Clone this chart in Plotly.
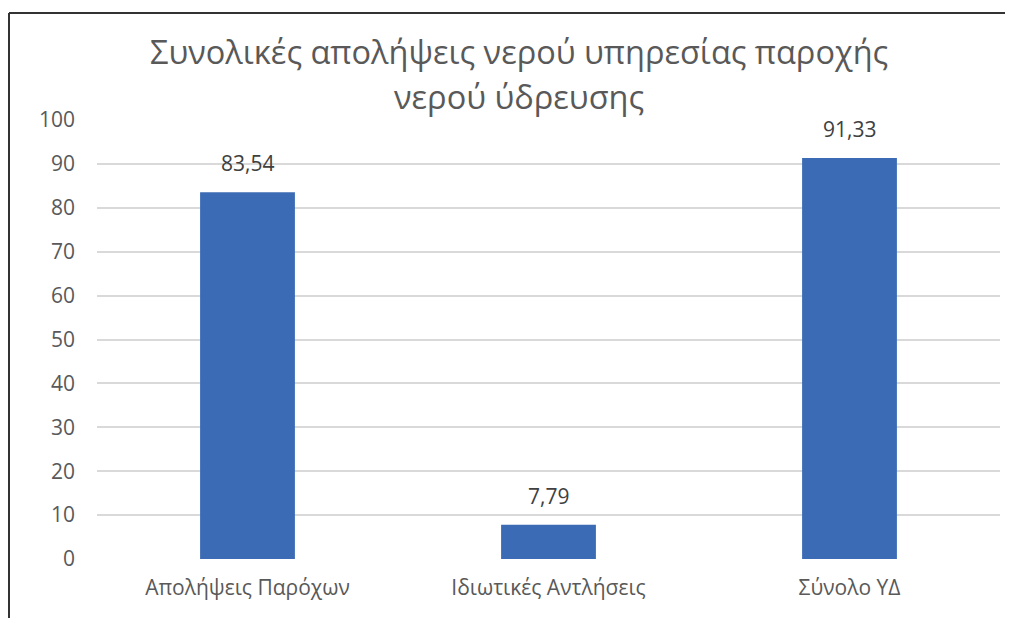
import plotly.graph_objects as go

categories = ["Απολήψεις Παρόχων", "Ιδιωτικές Αντλήσεις", "Σύνολο ΥΔ"]
values = [83.54, 7.79, 91.33]
value_labels = ["83,54", "7,79", "91,33"]
y_ticks = [0, 10, 20, 30, 40, 50, 60, 70, 80, 90, 100]

title_lines = ["Συνολικές απολήψεις νερού υπηρεσίας παροχής", "νερού ύδρευσης"]

FONT = "Open Sans, Noto Sans, DejaVu Sans, sans-serif"

# page body has an 8px default margin; compensate
OFF = 8

fig = go.Figure(go.Bar(
    x=categories, y=values,
    marker=dict(color="#3C6BB5", line=dict(width=0)),
    width=0.315,
))

for c, v, lab in zip(categories, values, value_labels):
    fig.add_annotation(x=c, y=v, text=lab, showarrow=False,
                       yanchor="bottom", yshift=13,
                       font=dict(size=21, color="#404040", family=FONT))

W, H = 1013, 618
l, r, t, b = 97 - OFF, 13 + OFF, 120 - OFF, 59 + OFF
pw, ph = W - l - r, H - t - b

def px(x):
    return (x - OFF - l) / pw

def py(y):
    return (H - b - (y - OFF)) / ph

for line, yc in zip(title_lines, [52, 97]):
    fig.add_annotation(text=line, xref="paper", yref="paper",
                       x=px(519), y=py(yc), xanchor="center", yanchor="middle",
                       showarrow=False,
                       font=dict(size=32.5, color="#595959", family=FONT))

fig.update_layout(
    width=W, height=H,
    margin=dict(l=l, r=r, t=t, b=b, autoexpand=False),
    paper_bgcolor="white", plot_bgcolor="white",
    showlegend=False,
    bargap=0.685,
    xaxis=dict(showline=False, ticks="", showgrid=False,
               ticklabelstandoff=14,
               tickfont=dict(size=21, color="#595959", family=FONT)),
    yaxis=dict(range=[0, 100], tickvals=y_ticks, showgrid=True,
               gridcolor="#D9D9D9", gridwidth=2, zeroline=False,
               showline=False, ticks="", ticklabelstandoff=21,
               tickfont=dict(size=21, color="#595959", family=FONT)),
    shapes=[
        dict(type="line", xref="paper", yref="paper",
             x0=px(9), x1=px(1011), y0=py(13), y1=py(13),
             line=dict(color="#333333", width=2)),
        dict(type="line", xref="paper", yref="paper",
             x0=px(9), x1=px(9), y0=py(13), y1=py(640),
             line=dict(color="#333333", width=2)),
    ],
)

fig.write_html("out.html")
